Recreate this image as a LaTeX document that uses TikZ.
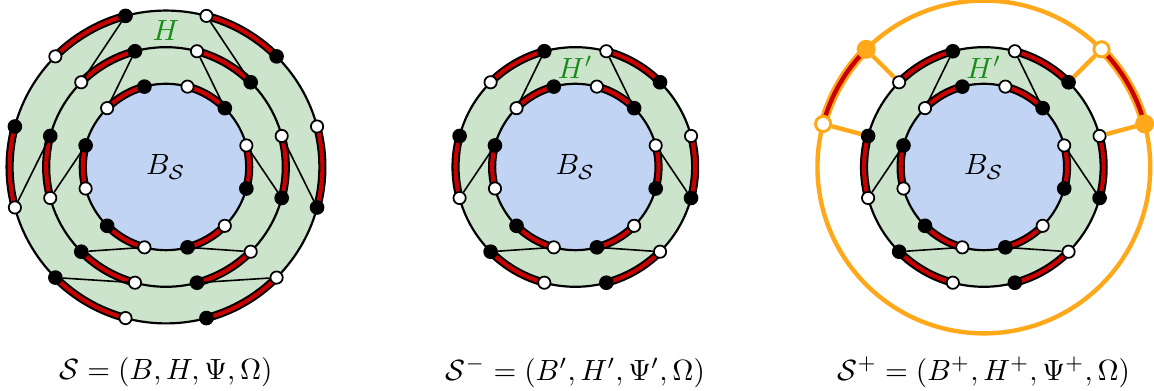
\documentclass[tikz,border=0pt]{standalone}
\usepackage{amsmath}
\usepackage{xcolor}
\usetikzlibrary{calc}

\definecolor{hgreen}{RGB}{205,228,204}
\definecolor{bblue}{RGB}{194,212,244}
\definecolor{arcred}{RGB}{200,0,0}
\definecolor{plusorange}{RGB}{255,168,26}
\definecolor{labelgreen}{RGB}{24,140,24}

\tikzset{
  ring/.style={draw=black, line width=0.75pt},
  link/.style={draw=black, line width=0.55pt},
  arcbase/.style={draw=black, line width=2.8pt},
  arcfill/.style={draw=arcred, line width=1.4pt},
  bk/.style={circle, fill=black, draw=black, line width=0.5pt, inner sep=0pt, minimum size=4.5pt},
  wt/.style={circle, fill=white, draw=black, line width=0.6pt, inner sep=0pt, minimum size=4.2pt},
  oring/.style={draw=plusorange, line width=1.5pt},
  olink/.style={draw=plusorange, line width=1.5pt},
  obase/.style={draw=plusorange, line width=3.2pt},
  ofill/.style={draw=arcred, line width=1.5pt},
  obk/.style={circle, fill=plusorange, draw=plusorange, line width=0.5pt, inner sep=0pt, minimum size=6pt},
  owt/.style={circle, fill=white, draw=plusorange, line width=1pt, inner sep=0pt, minimum size=5.2pt},
}

\begin{document}
\begin{tikzpicture}
  \useasboundingbox (-1.995,-2.692) rectangle (11.875,2.007);

  % S = (B,H,Psi,Omega)
  \begin{scope}[shift={(0,0)}]
    \fill[hgreen] (0,0) circle (1.88);
    \fill[bblue] (0,0) circle (1);
    \draw[ring] (0,0) circle (1) (0,0) circle (1.44) (0,0) circle (1.88);
    \foreach \rad in {1,1.44,1.88}
      \foreach \a in {45,105,165,225,285,345} {
        \draw[arcbase] (\a:\rad) arc[start angle=\a, end angle=\a+30, radius=\rad];
        \draw[arcfill] (\a:\rad) arc[start angle=\a, end angle=\a+30, radius=\rad];
      }
    \foreach \r/\rad in {1/1,2/1.44,3/1.88}
      \foreach \a in {45,105,165,225,285,345} {
        \pgfmathtruncatemacro\w{mod(\a+30,360)}
        \node[bk] (L\r-\a) at (\a:\rad) {};
        \node[wt] (L\r-\w) at (\w:\rad) {};
      }
    \foreach \a in {105,225,345} {
      \pgfmathtruncatemacro\b{mod(\a+30,360)}
      \draw[link] (L3-\a) -- (L2-\b);
      \draw[link] (L2-\a) -- (L1-\b);
    }
    \foreach \a in {75,195,315} {
      \pgfmathtruncatemacro\b{\a-30}
      \draw[link] (L3-\a) -- (L2-\b);
      \draw[link] (L2-\a) -- (L1-\b);
    }
    \node (LB) at (0,0) {$B_{\mathcal{S}}$};
    \node[text=labelgreen] (LH) at (0,1.64) {$H$};
    \node (Lcap) at (0,-2.47) {$\mathcal{S} = (B, H, \Psi, \Omega)$};
  \end{scope}

  % S^- = (B',H',Psi',Omega)
  \begin{scope}[shift={(4.92,0)}]
    \fill[hgreen] (0,0) circle (1.44);
    \fill[bblue] (0,0) circle (1);
    \draw[ring] (0,0) circle (1) (0,0) circle (1.44);
    \foreach \rad in {1,1.44}
      \foreach \a in {45,105,165,225,285,345} {
        \draw[arcbase] (\a:\rad) arc[start angle=\a, end angle=\a+30, radius=\rad];
        \draw[arcfill] (\a:\rad) arc[start angle=\a, end angle=\a+30, radius=\rad];
      }
    \foreach \r/\rad in {1/1,2/1.44}
      \foreach \a in {45,105,165,225,285,345} {
        \pgfmathtruncatemacro\w{mod(\a+30,360)}
        \node[bk] (M\r-\a) at (\a:\rad) {};
        \node[wt] (M\r-\w) at (\w:\rad) {};
      }
    \foreach \a in {105,225,345} {
      \pgfmathtruncatemacro\b{mod(\a+30,360)}
      \draw[link] (M2-\a) -- (M1-\b);
    }
    \foreach \a in {75,195,315} {
      \pgfmathtruncatemacro\b{\a-30}
      \draw[link] (M2-\a) -- (M1-\b);
    }
    \node (MB) at (0,0) {$B_{\mathcal{S}}$};
    \node[text=labelgreen] (MH) at (0,1.2) {$H'$};
    \node (Mcap) at (0,-2.47) {$\mathcal{S}^- = (B', H', \Psi', \Omega)$};
  \end{scope}

  % S^+ = (B^+,H^+,Psi^+,Omega)
  \begin{scope}[shift={(9.83,0)}]
    \fill[hgreen] (0,0) circle (1.44);
    \fill[bblue] (0,0) circle (1);
    \draw[ring] (0,0) circle (1) (0,0) circle (1.44);
    \draw[oring] (0,0) circle (2);
    \foreach \rad in {1,1.44}
      \foreach \a in {45,105,165,225,285,345} {
        \draw[arcbase] (\a:\rad) arc[start angle=\a, end angle=\a+30, radius=\rad];
        \draw[arcfill] (\a:\rad) arc[start angle=\a, end angle=\a+30, radius=\rad];
      }
    \foreach \a in {15,135} {
      \draw[obase] (\a:2) arc[start angle=\a, end angle=\a+30, radius=2];
      \draw[ofill] (\a:2) arc[start angle=\a, end angle=\a+30, radius=2];
    }
    \foreach \r/\rad in {1/1,2/1.44}
      \foreach \a in {45,105,165,225,285,345} {
        \pgfmathtruncatemacro\w{mod(\a+30,360)}
        \node[bk] (R\r-\a) at (\a:\rad) {};
        \node[wt] (R\r-\w) at (\w:\rad) {};
      }
    \node[obk] (O-15) at (15:2) {};
    \node[owt] (O-45) at (45:2) {};
    \node[obk] (O-135) at (135:2) {};
    \node[owt] (O-165) at (165:2) {};
    \foreach \a in {105,225,345} {
      \pgfmathtruncatemacro\b{mod(\a+30,360)}
      \draw[link] (R2-\a) -- (R1-\b);
    }
    \foreach \a in {75,195,315} {
      \pgfmathtruncatemacro\b{\a-30}
      \draw[link] (R2-\a) -- (R1-\b);
    }
    \foreach \a in {15,45,135,165}
      \draw[olink] (O-\a) -- (R2-\a);
    \node (RB) at (0,0) {$B_{\mathcal{S}}$};
    \node[text=labelgreen] (RH) at (0,1.2) {$H'$};
    \node (Rcap) at (0,-2.47) {$\mathcal{S}^+ = (B^+, H^+, \Psi^+, \Omega)$};
  \end{scope}
\end{tikzpicture}
\end{document}
